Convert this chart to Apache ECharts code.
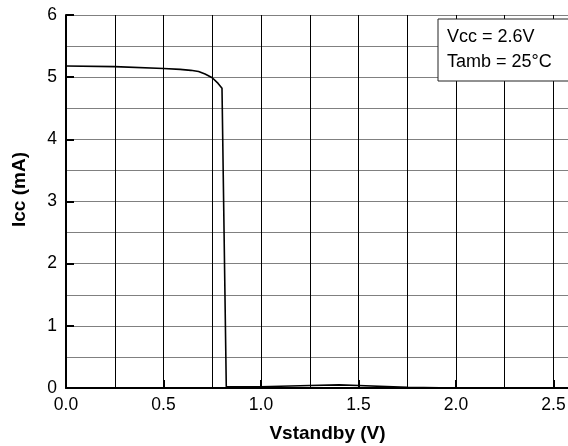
<!DOCTYPE html>
<html><head><meta charset="utf-8">
<script src="https://cdn.jsdelivr.net/npm/echarts@6/dist/echarts.min.js"></script>
<style>html,body{margin:0;padding:0;background:#fff}#c{width:568px;height:446px}</style>
</head><body><div id="c"></div>
<script>
var vstandby = [0, 0.25, 0.5, 0.585, 0.64, 0.68, 0.713, 0.75, 0.78, 0.80, 0.822, 1.0, 1.25, 1.4, 1.5, 1.75, 2.0, 2.6];
var icc      = [5.18, 5.17, 5.14, 5.125, 5.11, 5.09, 5.05, 4.99, 4.90, 4.82, 0.02, 0.02, 0.04, 0.05, 0.04, 0.01, 0, 0];
var legendLines = ['Vcc = 2.6V', 'Tamb = 25°C'];
var xName = 'Vstandby (V)', yName = 'Icc (mA)';

var pts = vstandby.map(function(v, i){ return [v, icc[i]]; });
var font = 'Liberation Sans, Arial, sans-serif';
var chart = echarts.init(document.getElementById('c'));
chart.setOption({
  animation: false,
  grid: {left: 66, top: 15, bottom: 58, right: -5, containLabel: false, outerBoundsMode: 'none'},
  xAxis: [{
    type: 'value', min: 0, max: 2.6, interval: 0.25,
    name: xName, nameLocation: 'middle', nameGap: 36,
    nameTextStyle: {fontFamily: font, fontSize: 19, fontWeight: 'bold', color: '#000', padding: [0, 0, 0, 16]},
    axisLine: {show: true, onZero: false, lineStyle: {color: '#000', width: 2}},
    axisTick: {show: false},
    axisLabel: {fontFamily: font, fontSize: 17.5, color: '#000', margin: 8, hideOverlap: false,
      formatter: function(v){ var r = Math.round(v*100); return (r % 50 === 0 && r <= 250) ? (r/100).toFixed(1) : ''; }},
    splitLine: {show: true, lineStyle: {color: '#000', width: 1}}
  }, {
    type: 'value', min: 0, max: 2.6, interval: 0.5, position: 'bottom',
    axisLine: {show: false}, axisLabel: {show: false}, splitLine: {show: false},
    axisTick: {show: true, inside: true, length: 8, lineStyle: {color: '#000', width: 2}}
  }],
  yAxis: {
    type: 'value', min: 0, max: 6, interval: 1,
    name: yName, nameLocation: 'middle', nameGap: 37, nameRotate: 90,
    nameTextStyle: {fontFamily: font, fontSize: 19, fontWeight: 'bold', color: '#000', padding: [0, 0, 0, 24]},
    axisLine: {show: true, lineStyle: {color: '#000', width: 2}},
    axisTick: {show: true, inside: true, length: 8, lineStyle: {color: '#000', width: 2}},
    axisLabel: {fontFamily: font, fontSize: 17.5, color: '#000', margin: 9},
    splitLine: {show: true, lineStyle: {color: '#808080', width: 1}},
    minorTick: {show: false, splitNumber: 2},
    minorSplitLine: {show: true, lineStyle: {color: '#808080', width: 1}}
  },
  series: [{
    type: 'line', data: pts, xAxisIndex: 0, symbol: 'none', smooth: false,
    lineStyle: {color: '#000', width: 1.6}, z: 5
  }],
  graphic: [{
    type: 'rect', shape: {x: 438, y: 19, width: 140, height: 62},
    style: {fill: '#fff', stroke: '#222', lineWidth: 1}, z: 10
  }, {
    type: 'text', x: 447, y: 37, z: 11,
    style: {text: legendLines[0], font: '18px ' + font, fill: '#000', textVerticalAlign: 'middle', verticalAlign: 'middle'}
  }, {
    type: 'text', x: 447, y: 62, z: 11,
    style: {text: legendLines[1], font: '18px ' + font, fill: '#000', textVerticalAlign: 'middle', verticalAlign: 'middle'}
  }]
});
</script></body></html>
